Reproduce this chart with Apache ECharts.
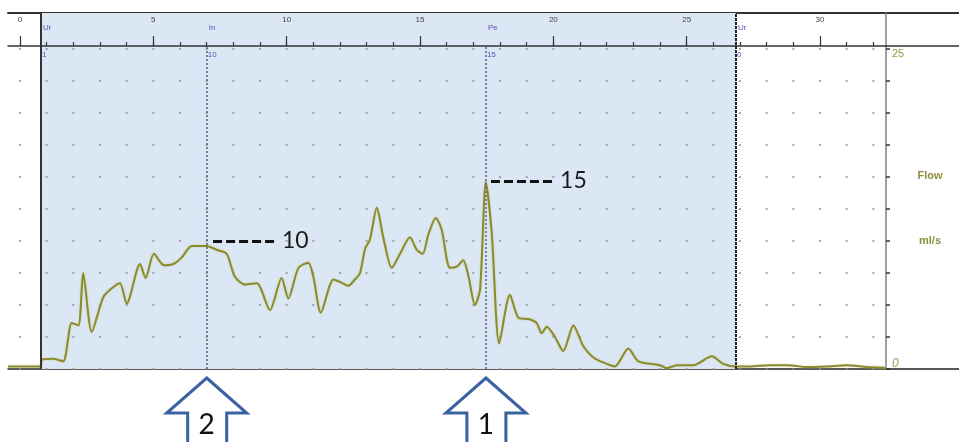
<!DOCTYPE html>
<html>
<head>
<meta charset="utf-8">
<script src="https://cdn.jsdelivr.net/npm/echarts@6.0.0/dist/echarts.min.js"></script>
<style>
html,body{margin:0;padding:0;background:#fff;}
#main{width:959px;height:442px;}
</style>
</head>
<body>
<div id="main"></div>
<script>
// ---- data (time in s, flow in ml/s) ----
const timeS = [-0.45,0.79,0.8,1.25,1.62,1.94,2.19,2.37,2.69,3.12,3.44,3.75,4.0,4.5,4.71,5.02,5.4,5.75,6.06,6.44,7.0,7.38,7.75,8.06,8.44,8.88,9.37,9.81,10.06,10.44,10.81,11.0,11.28,11.75,12.0,12.31,12.56,12.75,12.94,13.12,13.38,13.62,13.94,14.25,14.62,14.88,15.1,15.31,15.59,15.81,16.12,16.38,16.62,16.81,17.06,17.25,17.47,17.69,17.97,18.37,18.69,19.06,19.37,19.56,19.75,20.06,20.37,20.75,21.12,21.5,22.0,22.31,22.81,23.19,24.0,24.25,24.62,25.25,25.94,26.37,26.81,27.37,28.12,28.81,29.5,30.25,31.0,31.75,32.44];
const flowMl = [0.2,0.2,0.7,0.8,0.6,3.6,3.4,7.5,2.9,5.6,6.3,6.7,5.1,8.2,7.1,9.0,8.1,8.2,8.7,9.6,9.6,9.3,9.0,7.2,6.6,6.7,4.6,7.1,5.5,7.9,8.3,7.2,4.4,7.0,6.8,6.5,7.0,7.5,9.4,10.1,12.6,10.3,7.9,9.0,10.3,9.3,9.0,10.5,11.8,10.9,7.9,8.0,8.5,7.3,5.0,6.2,14.6,10.6,2.0,5.8,4.0,3.9,3.6,2.8,3.3,2.5,1.4,3.4,1.8,0.9,0.4,0.2,1.6,0.6,0.3,0.05,0.3,0.3,1.0,0.4,0.2,0.2,0.3,0.3,0.15,0.2,0.3,0.15,0.1];

const timeTicks = [0,1,2,3,4,5,6,7,8,9,10,11,12,13,14,15,16,17,18,19,20,21,22,23,24,25,26,27,28,29,30,31,32];
const timeLabels = [0,5,10,15,20,25,30];
const flowTicks = [0,2.5,5,7.5,10,12.5,15,17.5,20,22.5,25];
const flowLabels = [0,25];

const markerNames = ['Ur','In','Pe','Ur'];
const markerTimes = [0.79,7.0,17.47,26.85];
const markerValues = ['1','10','15','0'];

const annoLabels = ['10','15'];
const annoStart = [7.24,17.66];
const annoEnd = [9.56,19.99];
const annoFlow = [10.0,14.7];

const arrowLabels = ['2','1'];
const arrowTimes = [7.0,17.47];

// ---- axes ranges ----
const X_MIN = -0.45, X_MAX = 35.21, X_MAX_R = 32.475, Y_MAX = 27.81;
const OLIVE = '#8b8b2c';

const chart = echarts.init(document.getElementById('main'));

const annoLines = annoLabels.map((lab, i) => ([
  {coord:[annoStart[i], annoFlow[i]], label:{show:true, formatter:lab}},
  {coord:[annoEnd[i], annoFlow[i]]}
]));

const option = {
  animation:false,
  backgroundColor:'#ffffff',
  grid:[
    {left:8, right:0, top:13, bottom:73},
    {left:8, width:878, top:13, bottom:73},
    {left:8, right:0, top:13, height:33}
  ],
  xAxis:[
    {gridIndex:0, type:'value', min:X_MIN, max:X_MAX, position:'bottom',
     axisLine:{show:true, onZero:false, lineStyle:{color:'#222', width:1.5}}, axisTick:{show:false}, axisLabel:{show:false}, splitLine:{show:false}},
    {gridIndex:0, type:'value', min:X_MIN, max:X_MAX, position:'top',
     axisLine:{show:true, onZero:false, lineStyle:{color:'#333', width:2}}, axisTick:{show:false}, axisLabel:{show:false}, splitLine:{show:false}},
    {gridIndex:1, type:'value', min:X_MIN, max:X_MAX_R, show:false},
    {gridIndex:2, type:'value', min:X_MIN, max:X_MAX, position:'bottom', z:3,
     axisLine:{show:true, onZero:false, lineStyle:{color:'#333', width:1.5}},
     axisTick:{show:true, inside:true, length:4, customValues:timeTicks, lineStyle:{color:'#333', width:1.2}},
     axisLabel:{show:false}, splitLine:{show:false}},
    {gridIndex:2, type:'value', min:X_MIN, max:X_MAX, position:'bottom', z:3,
     axisLine:{show:false, onZero:false},
     axisTick:{show:true, inside:true, length:10, customValues:timeLabels, lineStyle:{color:'#333', width:1.2}},
     axisLabel:{show:true, inside:true, margin:22, customValues:timeLabels, fontSize:8, color:'#444', fontFamily:'Liberation Sans'},
     splitLine:{show:false}}
  ],
  yAxis:[
    {gridIndex:0, type:'value', min:0, max:Y_MAX, show:false},
    {gridIndex:1, type:'value', min:0, max:Y_MAX, interval:2.5, position:'right', z:1.5,
     axisLine:{show:true, onZero:false, lineStyle:{color:'#808080', width:1.5}},
     axisTick:{show:true, length:4, customValues:flowTicks, lineStyle:{color:'#333', width:1.5}},
     axisLabel:{show:true, customValues:flowLabels, margin:6, color:'#9a9a40', fontSize:11, fontFamily:'Liberation Sans',
       formatter:v => v === 0 ? '{z|0}' : '{t|25}',
       rich:{t:{color:'#9a9a40', fontSize:11, padding:[9,0,0,0]}, z:{color:'#9a9a40', fontSize:12, fontStyle:'italic', padding:[0,0,10,0]}}},
     splitLine:{show:true, lineStyle:{color:'#8a8a8a', width:1.5, type:[2,24.667], dashOffset:15.667}}},
    {gridIndex:2, type:'value', min:0, max:1, show:false}
  ],
  series:[
    {
      type:'line', xAxisIndex:0, yAxisIndex:0, z:3,
      data: timeS.map((t,i) => [t, flowMl[i]]),
      smooth:0.25, symbol:'none',
      lineStyle:{color:OLIVE, width:2, shadowColor:'rgba(190,190,110,0.6)', shadowBlur:2},
      markArea:{silent:true, itemStyle:{color:'#dbe7f4'},
        data:[[{xAxis:markerTimes[0]},{xAxis:markerTimes[3]}]]},
      markLine:{silent:true, symbol:'none', animation:false,
        label:{position:'end', distance:7, fontSize:23, color:'#1a1a1a', fontFamily:'Lato'},
        lineStyle:{color:'#111', width:3, type:[9,4]},
        data: annoLines.concat([
          [{coord:[markerTimes[0],0], label:{show:false}, lineStyle:{color:'#333', width:2, type:'solid'}},{coord:[markerTimes[0],Y_MAX]}],
          [{coord:[markerTimes[1],0], label:{show:false}, lineStyle:{color:'#5a5f78', width:1.5, type:[2,2]}},{coord:[markerTimes[1],25.23]}],
          [{coord:[markerTimes[2],0], label:{show:false}, lineStyle:{color:'#5a5f78', width:1.5, type:[2,2]}},{coord:[markerTimes[2],25.23]}],
          [{coord:[markerTimes[3],0], label:{show:false}, lineStyle:{color:'#222', width:2, type:[3,1]}},{coord:[markerTimes[3],Y_MAX]}]
        ])
      }
    }
  ]
};
chart.setOption(option);

// ---- overlay texts and arrows ----
const px = t => chart.convertToPixel({xAxisIndex:0}, t);
const g = [];
markerNames.forEach((n,i) => {
  const x = px(markerTimes[i]);
  g.push({type:'text', x:x+2, y:24, z:10, style:{text:n, fontSize:8, fill:'#5a4fb0', fontFamily:'Liberation Sans'}});
  g.push({type:'text', x:x+1, y:51, z:10, style:{text:markerValues[i], fontSize:8, fill:'#5a4fb0', fontFamily:'Liberation Sans'}});
});
g.push({type:'text', x:930, y:176, z:10, style:{text:'Flow', fontSize:11, fontWeight:'bold', fill:'#8f8f3a', align:'center', verticalAlign:'middle', fontFamily:'Liberation Sans'}});
g.push({type:'text', x:930, y:241, z:10, style:{text:'ml/s', fontSize:11, fontWeight:'bold', fill:'#8f8f3a', align:'center', verticalAlign:'middle', fontFamily:'Liberation Sans'}});
arrowTimes.forEach((t,i) => {
  const cx = px(t);
  g.push({type:'polygon', z:10, shape:{points:[[cx,378],[cx+40,413],[cx+20,413],[cx+20,446],[cx-19,446],[cx-19,413],[cx-40,413]]},
    style:{fill:'#ffffff', stroke:'#3b62a0', lineWidth:3}});
  g.push({type:'text', x:cx, y:425, z:11, style:{text:arrowLabels[i], fontSize:28, fill:'#111', align:'center', verticalAlign:'middle', fontFamily:'Lato'}});
});
chart.setOption({graphic:g});
</script>
</body>
</html>
